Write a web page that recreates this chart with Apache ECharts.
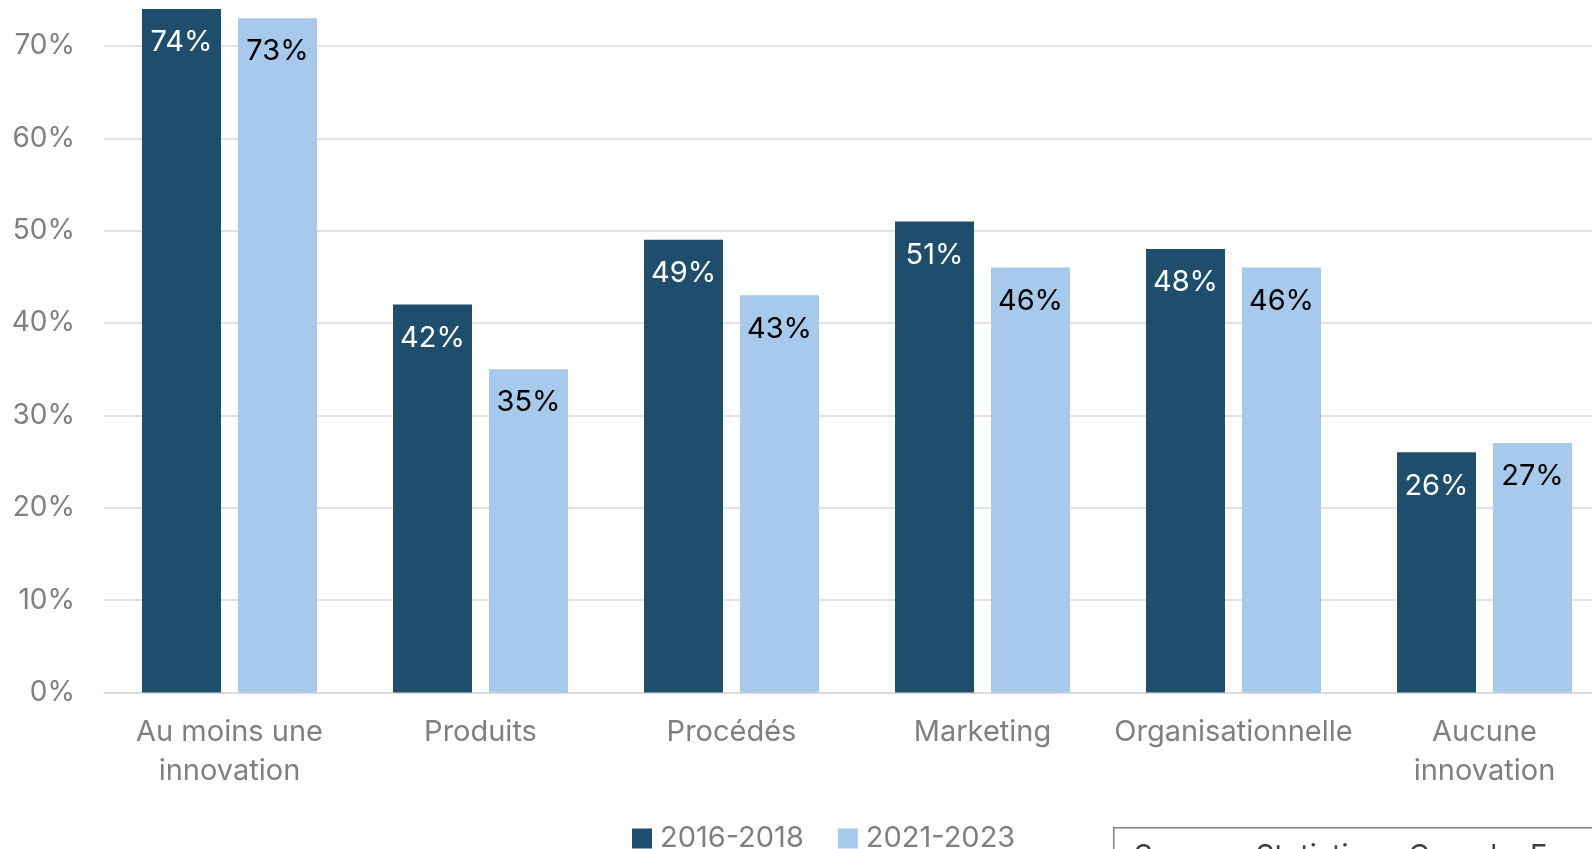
<!DOCTYPE html>
<html>
<head>
<meta charset="utf-8">
<title>Innovation</title>
<script src="https://cdn.jsdelivr.net/npm/echarts@6.0.0/dist/echarts.min.js"></script>
<style>
html, body { margin: 0; padding: 0; background: #fff; overflow: hidden; }
#main { width: 1592px; height: 849px; }
</style>
</head>
<body>
<div id="main"></div>
<script>
var categories = ['Au moins une\ninnovation', 'Produits', 'Procédés', 'Marketing', 'Organisationnelle', 'Aucune\ninnovation'];
var seriesNames = ['2016-2018', '2021-2023'];
var values2016 = [74, 42, 49, 51, 48, 26];
var values2021 = [73, 35, 43, 46, 46, 27];
var yTicks = [0, 10, 20, 30, 40, 50, 60, 70, 80];

var font = 'Inter, "Liberation Sans", Arial, sans-serif';
var grey = '#7f7f7f';

var myChart = echarts.init(document.getElementById('main'));
myChart.setOption({
	animation: false,
	textStyle: { fontFamily: font },
	// top of the plot (80%) sits above the window, as in the cropped original
	grid: { left: 104, top: -46.5, width: 1506, height: 739, outerBoundsMode: 'none', containLabel: false },
	legend: {
		data: seriesNames,
		left: 627,
		top: 819,
		itemWidth: 20,
		itemHeight: 20,
		itemGap: 34,
		icon: 'rect',
		textStyle: { color: grey, fontSize: 29, fontFamily: font, padding: [0, 0, 0, 3] }
	},
	xAxis: {
		type: 'category',
		data: categories,
		axisLine: { lineStyle: { color: '#d9d9d9', width: 1.5 } },
		axisTick: { show: false },
		axisLabel: { color: grey, fontSize: 29, fontFamily: font, lineHeight: 39, margin: 20, interval: 0 }
	},
	yAxis: {
		type: 'value',
		min: yTicks[0],
		max: yTicks[yTicks.length - 1],
		interval: 10,
		axisLine: { show: false },
		axisTick: { show: false },
		splitLine: { lineStyle: { color: '#d9d9d9', width: 1.5 } },
		axisLabel: { color: grey, fontSize: 28, fontFamily: font, margin: 29, formatter: '{value}%' }
	},
	series: [
		{
			name: seriesNames[0],
			type: 'bar',
			data: values2016,
			barWidth: 79,
			barGap: '21.5%',
			itemStyle: { color: '#1f4e6d' },
			label: { show: true, position: 'insideTop', distance: 19, color: '#fff', fontSize: 29, fontFamily: font, formatter: '{c}%' }
		},
		{
			name: seriesNames[1],
			type: 'bar',
			data: values2021,
			barWidth: 79,
			itemStyle: { color: '#a6c9ec' },
			label: { show: true, position: 'insideTop', distance: 19, color: '#000', fontSize: 29, fontFamily: font, formatter: '{c}%' }
		}
	],
	// source box, cut by the bottom edge
	graphic: [
		{ type: 'rect', left: 1113, top: 827, shape: { width: 520, height: 60 }, style: { fill: '#fff', stroke: '#808080', lineWidth: 1.5 } },
		{ type: 'text', left: 1134, top: 842, style: { text: "Source : Statistique Canada, Enquête sur l'innovation et les stratégies d'entreprise", fill: '#404040', font: '29px ' + font } }
	]
});
</script>
</body>
</html>
